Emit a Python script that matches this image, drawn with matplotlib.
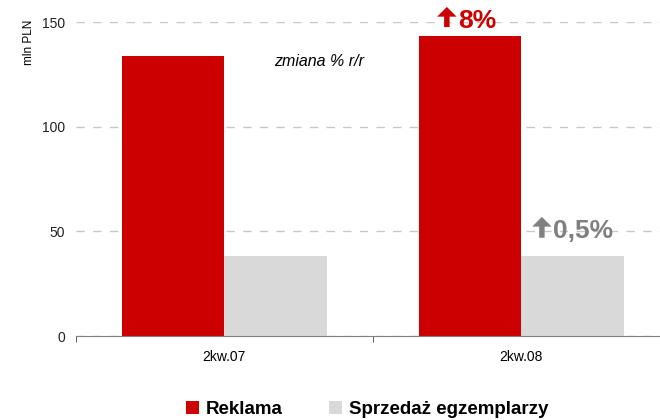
import matplotlib
matplotlib.use("Agg")
import matplotlib.pyplot as plt
import numpy as np

periods = ["2kw.07", "2kw.08"]
reklama = [133.8, 143.3]
sprzedaz = [38.0, 38.0]
series_labels = ["Reklama", "Sprzedaż egzemplarzy"]
change_labels = ["8%", "0,5%"]

plt.rcParams["font.family"] = ["Liberation Sans", "DejaVu Sans"]

RED = "#cc0000"
GREY = "#d9d9d9"
DARKGREY = "#808080"

fig = plt.figure(figsize=(6.6, 4.2), dpi=100)
ax = fig.add_axes([0.115, 0.2, 0.9, 0.7476])

x = np.arange(len(periods))
w = 0.345
b1 = ax.bar(x - w / 2, reklama, w, color=RED, label=series_labels[0])
b2 = ax.bar(x + w / 2, sprzedaz, w, color=GREY, label=series_labels[1])

ax.set_xlim(-0.5, 1.5)
ax.set_ylim(0, 150)
ax.set_yticks([0, 50, 100, 150])
ax.tick_params(axis="y", length=0, labelsize=10, pad=8, colors="#222222")
ax.yaxis.grid(True, linestyle=(0, (6, 6)), color="#c8c8c8", lw=1)
ax.set_axisbelow(True)

ax.set_xticks(x)
ax.set_xticklabels(periods, fontsize=10)
ax.tick_params(axis="x", length=0, pad=10)
ax.set_xticks([-0.5, 0.5, 1.5], minor=True)
ax.tick_params(axis="x", which="minor", length=4, color="#444444")

for s in ["top", "right", "left"]:
    ax.spines[s].set_visible(False)
ax.spines["bottom"].set_color("#808080")

ax.set_ylabel("mln PLN", fontsize=8.5)
ax.yaxis.set_label_coords(-0.069, 0.936)


def up_arrow(tip_x, tip_y, length, color):
    ax.annotate("", xy=(tip_x, tip_y), xytext=(0, -length),
                textcoords="offset points", annotation_clip=False,
                arrowprops=dict(arrowstyle="simple,head_length=0.5,head_width=1.0,tail_width=0.28",
                                mutation_scale=14, color=color, lw=0,
                                shrinkA=0, shrinkB=0))


# year-on-year change labels
up_arrow(0.749, 157.2, 14.5, RED)
ax.text(0.786, 147.2, change_labels[0], color=RED, fontsize=19,
        fontweight="bold", ha="left", va="baseline", clip_on=False)
up_arrow(1.069, 56.9, 15, DARKGREY)
ax.text(1.106, 46.8, change_labels[1], color=DARKGREY, fontsize=19,
        fontweight="bold", ha="left", va="baseline")
ax.text(0.318, 130.9, "zmiana % r/r", fontsize=11.5, style="italic",
        ha="center", va="center")

fig.legend(handles=[b1, b2], loc="center", bbox_to_anchor=(0.556, 0.026),
           ncol=2, frameon=False, handlelength=0.7, handleheight=0.7,
           columnspacing=2.5, handletextpad=0.35,
           prop={"weight": "bold", "size": 13.5})

fig.savefig("out.png", dpi=100)
